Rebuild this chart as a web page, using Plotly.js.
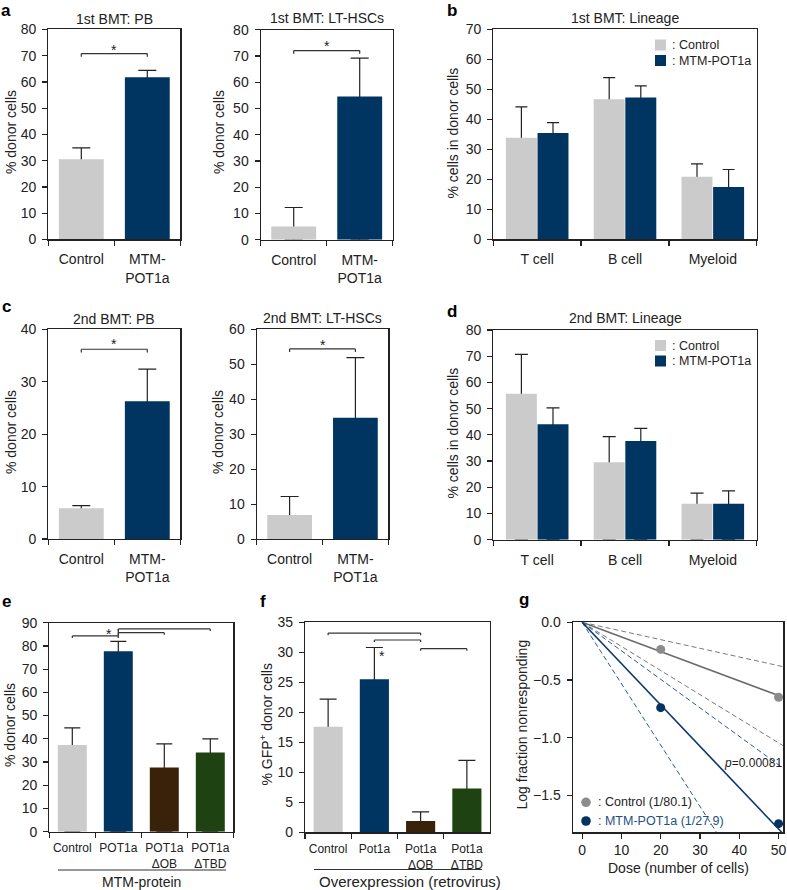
<!DOCTYPE html>
<html><head><meta charset="utf-8">
<script src="https://cdn.plot.ly/plotly-3.0.1.min.js"></script>
<style>html,body{margin:0;padding:0;background:#fff}#chart{width:787px;height:890px}</style>
</head><body><div id="chart"></div>
<script>
// ---------------- data ----------------
const twoCats = ['Control', 'MTM-<br>POT1a'];
const lineageCats = ['T cell', 'B cell', 'Myeloid'];
const eCats = ['Control', 'POT1a', 'POT1a<br>ΔOB', 'POT1a<br>ΔTBD'];
const fCats = ['Control', 'Pot1a', 'Pot1a<br>ΔOB', 'Pot1a<br>ΔTBD'];

const pb1Mean = [30.5, 61.8];   const pb1Err = [4.4, 2.6];
const hsc1Mean = [5.1, 54.6];   const hsc1Err = [7.2, 14.6];
const lin1CtrlMean = [33.9, 46.7, 20.9]; const lin1CtrlErr = [10.3, 7.2, 4.3];
const lin1MtmMean  = [35.5, 47.3, 17.5]; const lin1MtmErr  = [3.4, 3.9, 5.8];
const pb2Mean = [5.9, 26.3];    const pb2Err = [0.5, 6.1];
const hsc2Mean = [6.9, 34.7];   const hsc2Err = [5.3, 17.2];
const lin2CtrlMean = [55.7, 29.5, 13.7]; const lin2CtrlErr = [15.0, 9.8, 4.1];
const lin2MtmMean  = [44.0, 37.7, 13.7]; const lin2MtmErr  = [6.3, 4.8, 4.9];
const eMean = [37.3, 77.7, 27.6, 34.1]; const eErr = [7.4, 4.3, 10.2, 5.9];
const fMean = [17.6, 25.5, 1.9, 7.3];   const fErr = [4.6, 5.3, 1.5, 4.7];

// limiting dilution (panel g)
const doseObs = [20, 50];
const ctrlObs = [-0.235, -0.65];
const mtmObs = [-0.74, -1.745];
const ctrlFitX = [0, 51.2], ctrlFitY = [0, -0.65];
const ctrlLoX = [0, 51.2],  ctrlLoY = [0, -0.385];
const ctrlHiX = [0, 51.2],  ctrlHiY = [0, -1.07];
const mtmFitX = [0, 50.8],  mtmFitY = [0, -1.82];
const mtmLoX = [0, 51.2],   mtmLoY = [0, -1.265];
const mtmHiX = [0, 34.2],   mtmHiY = [0, -1.82];

// significance brackets: [fromCat, toCat, height]
const sigA1 = [[0, 1, 70.8]];
const sigA2 = [[0, 1, 72.1]];
const sigC1 = [[0, 1, 36.2]];
const sigC2 = [[0, 1, 54.4]];
const sigE  = [[0, 1, 84.3], [1, 2, 85.7], [1, 3, 87.3]];
const sigF  = [[0, 2, 33.2], [1, 2, 32.05], [2, 3, 30.6]];

// ---------------- styling ----------------
const W = 787, H = 890;
const GREY = '#cbcbcb', NAVY = '#003562', BROWN = '#3a2109', GREEN = '#1f4212';
const INK = '#222';
const FONT = 'Liberation Sans, Arial, Helvetica, sans-serif';

function xd(a, b) { return [a / W, b / W]; }
function yd(top, bot) { return [1 - bot / H, 1 - top / H]; }
function axisBase(extra) {
  return Object.assign({
    showline: true, linecolor: INK, linewidth: 1.2, mirror: true,
    ticks: 'outside', ticklen: 5, tickwidth: 1.2, tickcolor: INK,
    showgrid: false, zeroline: false, fixedrange: true,
    tickfont: {size: 14, color: INK, family: FONT}
  }, extra);
}
function catAxis(dom, n, anchor, extra) {
  return axisBase(Object.assign({domain: dom, type: 'category', tickson: 'boundaries',
    range: [-0.5, n - 0.5], anchor: anchor, tickangle: 0, ticklabelstandoff: 7}, extra || {}));
}
function valAxis(dom, range, dtick, anchor, extra) {
  return axisBase(Object.assign({domain: dom, range: range, dtick: dtick, anchor: anchor,
    ticklabelstandoff: 3}, extra || {}));
}
// each series: an invisible bar carrying the one-sided error bar (drawn first),
// then the visible bar on the same offset group, which hides the part of the stem inside the bar
function barSeries(xa, ya, cats, vals, err, colors, width, capw, grp) {
  const errTrace = {type: 'bar', x: cats, y: vals, xaxis: xa, yaxis: ya, offsetgroup: grp,
    marker: {color: 'rgba(0,0,0,0)', line: {width: 0}},
    error_y: {type: 'data', symmetric: false, array: err, arrayminus: vals,
              color: INK, thickness: 1.2, width: capw}};
  const barTrace = {type: 'bar', x: cats, y: vals, xaxis: xa, yaxis: ya, offsetgroup: grp,
    marker: {color: colors, line: {width: 0}}};
  if (width) { errTrace.width = width; barTrace.width = width; }
  return [errTrace, barTrace];
}

const traces = [].concat(
  barSeries('x', 'y', twoCats, pb1Mean, pb1Err, [GREY, NAVY], 0.68, 9, 'a1'),
  barSeries('x2', 'y2', twoCats, hsc1Mean, hsc1Err, [GREY, NAVY], 0.68, 9, 'a2'),
  barSeries('x3', 'y3', lineageCats, lin1CtrlMean, lin1CtrlErr, GREY, null, 6, 'ctrl'),
  barSeries('x3', 'y3', lineageCats, lin1MtmMean, lin1MtmErr, NAVY, null, 6, 'mtm'),
  barSeries('x4', 'y4', twoCats, pb2Mean, pb2Err, [GREY, NAVY], 0.68, 9, 'c1'),
  barSeries('x5', 'y5', twoCats, hsc2Mean, hsc2Err, [GREY, NAVY], 0.68, 9, 'c2'),
  barSeries('x6', 'y6', lineageCats, lin2CtrlMean, lin2CtrlErr, GREY, null, 6.5, 'ctrl'),
  barSeries('x6', 'y6', lineageCats, lin2MtmMean, lin2MtmErr, NAVY, null, 6.5, 'mtm'),
  barSeries('x7', 'y7', eCats, eMean, eErr, [GREY, NAVY, BROWN, GREEN], 0.63, 8, 'e'),
  barSeries('x8', 'y8', fCats, fMean, fErr, [GREY, NAVY, BROWN, GREEN], 0.63, 8.5, 'f'),
  [
  // panel g
  {type: 'scatter', mode: 'lines', x: ctrlLoX, y: ctrlLoY, xaxis: 'x9', yaxis: 'y9',
   line: {color: '#7a7a7a', width: 1, dash: '5px,3px'}},
  {type: 'scatter', mode: 'lines', x: ctrlHiX, y: ctrlHiY, xaxis: 'x9', yaxis: 'y9',
   line: {color: '#7a7a7a', width: 1, dash: '5px,3px'}},
  {type: 'scatter', mode: 'lines', x: mtmLoX, y: mtmLoY, xaxis: 'x9', yaxis: 'y9',
   line: {color: '#2c5a8c', width: 1, dash: '5px,3px'}},
  {type: 'scatter', mode: 'lines', x: mtmHiX, y: mtmHiY, xaxis: 'x9', yaxis: 'y9',
   line: {color: '#2c5a8c', width: 1, dash: '5px,3px'}},
  {type: 'scatter', mode: 'lines', x: ctrlFitX, y: ctrlFitY, xaxis: 'x9', yaxis: 'y9',
   line: {color: '#6a6a6a', width: 1.6}},
  {type: 'scatter', mode: 'lines', x: mtmFitX, y: mtmFitY, xaxis: 'x9', yaxis: 'y9',
   line: {color: '#0b386a', width: 1.6}},
  {type: 'scatter', mode: 'markers', x: doseObs, y: ctrlObs, xaxis: 'x9', yaxis: 'y9',
   marker: {color: '#8c8c8c', size: 9}, cliponaxis: false},
  {type: 'scatter', mode: 'markers', x: doseObs, y: mtmObs, xaxis: 'x9', yaxis: 'y9',
   marker: {color: '#06325f', size: 9}, cliponaxis: false}
  ]
);

// ---------------- shapes ----------------
const shapes = [];
function brackets(list, xa, ya, tick) {
  list.forEach(([a, b, h]) => {
    const ln = {type: 'line', xref: xa, yref: ya, line: {color: '#333', width: 1.2}};
    shapes.push(Object.assign({}, ln, {x0: a, x1: b, y0: h, y1: h}));
    shapes.push(Object.assign({}, ln, {x0: a, x1: a, y0: h, y1: h - tick}));
    shapes.push(Object.assign({}, ln, {x0: b, x1: b, y0: h, y1: h - tick}));
  });
}
brackets(sigA1, 'x', 'y', 1.2);
brackets(sigA2, 'x2', 'y2', 1.2);
brackets(sigC1, 'x4', 'y4', 0.6);
brackets(sigC2, 'x5', 'y5', 0.9);
brackets(sigE, 'x7', 'y7', 0.9);
brackets(sigF, 'x8', 'y8', 0.35);
// e: vertical joint at POT1a
shapes.push({type: 'line', xref: 'x7', yref: 'y7', x0: 1, x1: 1, y0: 84.3, y1: 87.3, line: {color: '#333', width: 1.2}});

function pline(x0, x1, y) {
  shapes.push({type: 'line', xref: 'paper', yref: 'paper', x0: x0 / W, x1: x1 / W,
    y0: 1 - y / H, y1: 1 - y / H, line: {color: '#333', width: 1.2}});
}
pline(58, 226, 870);
pline(314, 482, 869.5);
function prect(x0, y0, x1, y1, color) {
  shapes.push({type: 'rect', xref: 'paper', yref: 'paper', x0: x0 / W, x1: x1 / W,
    y0: 1 - y1 / H, y1: 1 - y0 / H, fillcolor: color, line: {width: 0}});
}
prect(655, 39.5, 666, 50.5, GREY);
prect(655, 55, 666, 66, NAVY);
prect(655, 340, 666, 351, GREY);
prect(655, 355.5, 666, 366.5, NAVY);
function pcirc(cx, cy, r, color) {
  shapes.push({type: 'circle', xref: 'paper', yref: 'paper', x0: (cx - r) / W, x1: (cx + r) / W,
    y0: 1 - (cy + r) / H, y1: 1 - (cy - r) / H, fillcolor: color, line: {width: 0}});
}
pcirc(586, 802.3, 4.8, '#8c8c8c');
pcirc(586, 821, 4.8, '#06325f');

// ---------------- annotations ----------------
const annotations = [];
function ann(text, px, py, opts) {
  annotations.push(Object.assign({text: text, x: px / W, y: 1 - py / H, xref: 'paper', yref: 'paper',
    showarrow: false, xanchor: 'center', yanchor: 'middle',
    font: {size: 14, color: INK, family: FONT}}, opts || {}));
}
function bold(t, px, py) { ann('<b>' + t + '</b>', px, py, {font: {size: 17, color: '#000', family: FONT}}); }
bold('a', 6, 10.5); bold('b', 451.5, 11); bold('c', 6, 307); bold('d', 452, 311);
bold('e', 6, 601); bold('f', 263, 601); bold('g', 523.5, 599);

ann('1st BMT: PB', 114.3, 18.6);
ann('1st BMT: LT-HSCs', 326.7, 18.4);
ann('1st BMT: Lineage', 625, 18.2);
ann('2nd BMT: PB', 114.3, 319.2);
ann('2nd BMT: LT-HSCs', 322.5, 318.4);
ann('2nd BMT: Lineage', 625, 318.3);

function ytitle(t, px, py) { ann(t, px, py, {textangle: -90}); }
ytitle('% donor cells', 11, 132);
ytitle('% donor cells', 219, 132);
ytitle('% cells in donor cells', 452.5, 133);
ytitle('% donor cells', 11, 432);
ytitle('% donor cells', 218, 432);
ytitle('% cells in donor cells', 452.5, 433);
ytitle('% donor cells', 10, 725);
ytitle('% GFP<sup>+</sup> donor cells', 266.5, 725);
ytitle('Log fraction nonresponding', 521.5, 725);

ann('MTM-protein', 141.7, 881.7);
ann('Overexpression (retrovirus)', 409.7, 881, {font: {size: 15, color: INK, family: FONT}});
ann('Dose (number of cells)', 678.3, 868.3);

ann(': Control', 670, 45, {xanchor: 'left', font: {size: 12.5, color: INK, family: FONT}});
ann(': MTM-POT1a', 670, 60.5, {xanchor: 'left', font: {size: 12.5, color: INK, family: FONT}});
ann(': Control', 670, 345.5, {xanchor: 'left', font: {size: 12.5, color: INK, family: FONT}});
ann(': MTM-POT1a', 670, 361, {xanchor: 'left', font: {size: 12.5, color: INK, family: FONT}});
ann(': Control (1/80.1)', 596, 802.3, {xanchor: 'left', font: {size: 12.5, color: INK, family: FONT}});
ann(': MTM-POT1a (1/27.9)', 596, 821, {xanchor: 'left', font: {size: 12.5, color: '#24517f', family: FONT}});

function star(xa, ya, x, y) {
  annotations.push({text: '*', xref: xa, yref: ya, x: x, y: y, showarrow: false,
    xanchor: 'center', yanchor: 'middle', yshift: -3, font: {size: 14, color: INK, family: FONT}});
}
star('x', 'y', 0.5, 73.4);
star('x2', 'y2', 0.5, 74.9);
star('x4', 'y4', 0.5, 37.8);
star('x5', 'y5', 0.5, 56.4);
star('x7', 'y7', 0.79, 86.4);
star('x8', 'y8', 1.16, 29.9);
annotations.push({text: '<i>p</i>=0.00081', xref: 'x9', yref: 'y9', x: 35.7, y: -1.218,
  showarrow: false, xanchor: 'left', yanchor: 'middle', font: {size: 12, color: INK, family: FONT}});

// ---------------- layout ----------------
const smallCat = {tickfont: {size: 12, color: INK, family: FONT}, ticklabelstandoff: 5};
const layout = {
  width: W, height: H, margin: {l: 0, r: 0, t: 0, b: 0},
  paper_bgcolor: '#fff', plot_bgcolor: '#fff', showlegend: false,
  font: {family: FONT, size: 14, color: INK},
  barmode: 'group', bargap: 0.28, bargroupgap: 0.02,
  xaxis:  catAxis(xd(48.3, 180.3), 2, 'y'),
  yaxis:  valAxis(yd(29.4, 239.4), [0, 80], 10, 'x'),
  xaxis2: catAxis(xd(260.7, 392.7), 2, 'y2'),
  yaxis2: valAxis(yd(29.8, 239.8), [0, 80], 10, 'x2'),
  xaxis3: catAxis(xd(493.3, 756.7), 3, 'y3'),
  yaxis3: valAxis(yd(29.4, 239.4), [0, 70], 10, 'x3'),
  xaxis4: catAxis(xd(48.3, 180.3), 2, 'y4'),
  yaxis4: valAxis(yd(329.3, 539.1), [0, 40], 10, 'x4'),
  xaxis5: catAxis(xd(256.7, 388.3), 2, 'y5'),
  yaxis5: valAxis(yd(329.3, 539.2), [0, 60], 10, 'x5'),
  xaxis6: catAxis(xd(493.3, 756.7), 3, 'y6'),
  yaxis6: valAxis(yd(330, 539.7), [0, 80], 10, 'x6'),
  xaxis7: catAxis(xd(49.3, 233.3), 4, 'y7', smallCat),
  yaxis7: valAxis(yd(622.7, 831.7), [0, 90], 10, 'x7'),
  xaxis8: catAxis(xd(305, 490), 4, 'y8', smallCat),
  yaxis8: valAxis(yd(622.3, 832.3), [0, 35], 5, 'x8'),
  xaxis9: valAxis(xd(572.7, 783.3), [-2.4, 51.2], 10, 'y9', {tick0: 0, ticklabelstandoff: 0}),
  yaxis9: valAxis(yd(622.3, 832.3), [-1.82, 0], 0.5, 'x9', {tickformat: '.1f'}),
  shapes: shapes, annotations: annotations
};

Plotly.newPlot('chart', traces, layout, {displayModeBar: false, staticPlot: true});
</script>
</body></html>
